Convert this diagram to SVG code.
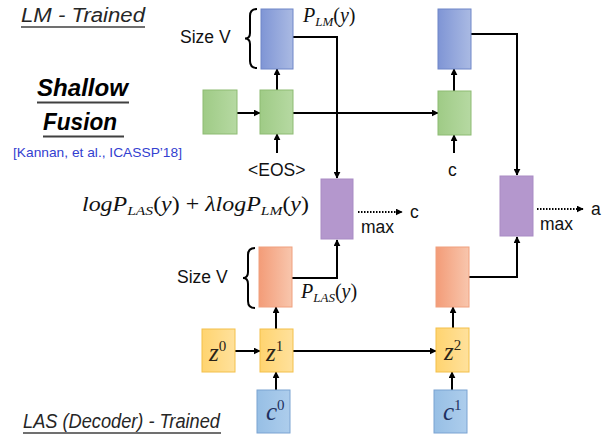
<svg xmlns="http://www.w3.org/2000/svg" width="609" height="444" viewBox="0 0 609 444">
<defs>
<linearGradient id="gBlue" x1="0" x2="1" y1="0" y2="0"><stop offset="0" stop-color="#7f95d5"/><stop offset="1" stop-color="#aabae3"/></linearGradient>
<linearGradient id="gGreen" x1="0" x2="1" y1="0" y2="0"><stop offset="0" stop-color="#9fcb86"/><stop offset="1" stop-color="#b6d9a2"/></linearGradient>
<linearGradient id="gOrange" x1="0" x2="1" y1="0" y2="0"><stop offset="0" stop-color="#f39c78"/><stop offset="1" stop-color="#f8c6ad"/></linearGradient>
<linearGradient id="gYellow" x1="0" x2="1" y1="0" y2="0"><stop offset="0" stop-color="#ffd470"/><stop offset="1" stop-color="#ffe19c"/></linearGradient>
<linearGradient id="gC" x1="0" x2="1" y1="0" y2="0"><stop offset="0" stop-color="#97bfe5"/><stop offset="1" stop-color="#adcdec"/></linearGradient>
<marker id="ah" viewBox="0 0 10 10" refX="9" refY="5" markerWidth="7" markerHeight="7" markerUnits="userSpaceOnUse" orient="auto"><path d="M0,0 L10,5 L0,10 z" fill="#000"/></marker>
</defs>
<style>
.blue{fill:url(#gBlue);stroke:#6f86c8;stroke-width:1}
.green{fill:url(#gGreen);stroke:#8dbb73;stroke-width:1}
.orange{fill:url(#gOrange);stroke:#f0a07e;stroke-width:1}
.yellow{fill:url(#gYellow);stroke:#f3c04a;stroke-width:1}
.cbox{fill:url(#gC);stroke:#7ba3d2;stroke-width:1}
.purple{fill:#b497cd;stroke:#a98bc4;stroke-width:1}
.ln{fill:none;stroke:#000;stroke-width:2}
.ar{fill:none;stroke:#000;stroke-width:2;marker-end:url(#ah)}
.dot{fill:none;stroke:#000;stroke-width:2;stroke-dasharray:1.5 1.5;marker-end:url(#ah)}
.sans{font-family:"Liberation Sans",Arial,sans-serif;fill:#111}
.title{font-family:"Liberation Sans",Arial,sans-serif;font-style:italic;font-size:20px;fill:#262626}
.big{font-family:"Liberation Sans",Arial,sans-serif;font-style:italic;font-weight:bold;font-size:24px;fill:#000}
.m{font-family:"Liberation Serif","Times New Roman",serif;font-style:italic;font-size:20px;fill:#111}
.zz{font-family:"Liberation Serif","Times New Roman",serif;font-style:italic;font-size:25px;fill:#2a2418}
.up{font-style:normal}
.sub{font-size:13px}
.sup{font-style:normal;font-size:15px}
.ul{stroke:#404040;stroke-width:1.5}
</style>

<!-- titles -->
<text class="title" x="21" y="22" textLength="124" lengthAdjust="spacingAndGlyphs">LM - Trained</text>
<line class="ul" x1="21" y1="27" x2="145" y2="27"/>
<text class="big" x="37" y="96" textLength="91" lengthAdjust="spacingAndGlyphs">Shallow</text>
<line class="ul" x1="37" y1="102.5" x2="129" y2="102.5" style="stroke-width:2"/>
<text class="big" x="43" y="130" textLength="74" lengthAdjust="spacingAndGlyphs">Fusion</text>
<line class="ul" x1="43" y1="136.5" x2="124" y2="136.5" style="stroke-width:2"/>
<text class="sans" x="13" y="157" font-size="13.5" style="fill:#3340d0" textLength="169" lengthAdjust="spacingAndGlyphs">[Kannan, et al., ICASSP’18]</text>
<text class="title" x="23" y="428" textLength="197" lengthAdjust="spacingAndGlyphs">LAS (Decoder) - Trained</text>
<line class="ul" x1="23" y1="433" x2="221" y2="433"/>

<!-- size labels and braces -->
<text class="sans" x="180" y="43" font-size="17.5">Size V</text>
<path class="ln" d="M257,9 Q250,9 250,16 L250,33 Q250,38.5 245,38.5 Q250,38.5 250,44 L250,61 Q250,68 257,68"/>
<text class="sans" x="177" y="283" font-size="17.5">Size V</text>
<path class="ln" d="M255,248 Q248,248 248,255 L248,272 Q248,278 243,278 Q248,278 248,284 L248,301 Q248,308 255,308"/>

<!-- math labels -->
<text class="m" x="303" y="22">P<tspan class="sub" dy="4">LM</tspan><tspan class="up" dy="-4">(</tspan>y<tspan class="up">)</tspan></text>
<text class="m" x="301" y="298">P<tspan class="sub" dy="4">LAS</tspan><tspan class="up" dy="-4">(</tspan>y<tspan class="up">)</tspan></text>
<text class="m" x="82" y="211" textLength="227" lengthAdjust="spacingAndGlyphs">logP<tspan class="sub" dy="4">LAS</tspan><tspan class="up" dy="-4">(</tspan>y<tspan class="up">) + </tspan>λlogP<tspan class="sub" dy="4">LM</tspan><tspan class="up" dy="-4">(</tspan>y<tspan class="up">)</tspan></text>

<!-- connectors -->
<g id="connectors">
<line class="ar" x1="237" y1="113" x2="260" y2="113"/>
<line class="ar" x1="277" y1="90" x2="277" y2="69"/>
<line class="ar" x1="277" y1="153" x2="277" y2="134"/>
<line class="ar" x1="293" y1="113" x2="438" y2="113"/>
<line class="ar" x1="454" y1="153" x2="454" y2="135"/>
<line class="ar" x1="454" y1="91" x2="454" y2="69"/>
<polyline class="ar" points="293,37 337,37 337,178"/>
<polyline class="ar" points="471,34 517,34 517,175"/>
<polyline class="ar" points="292,278 337,278 337,240"/>
<polyline class="ar" points="469,277 517,277 517,237"/>
<line class="dot" x1="358" y1="212" x2="402" y2="212"/>
<line class="dot" x1="537" y1="209" x2="583" y2="209"/>
<line class="ar" x1="235" y1="351" x2="260" y2="351"/>
<line class="ar" x1="293" y1="351" x2="436" y2="351"/>
<line class="ar" x1="276" y1="329" x2="276" y2="307"/>
<line class="ar" x1="276" y1="390" x2="276" y2="372"/>
<line class="ar" x1="453" y1="328" x2="453" y2="307"/>
<line class="ar" x1="452" y1="390" x2="452" y2="372"/>
</g>

<!-- nodes -->
<g id="lm-out-1"><rect class="blue" x="261" y="9" width="32" height="60"/></g>
<g id="lm-out-2"><rect class="blue" x="438" y="9" width="33" height="60"/></g>
<g id="lm-h0"><rect class="green" x="203" y="90" width="34" height="44"/></g>
<g id="lm-h1"><rect class="green" x="260" y="90" width="33" height="44"/></g>
<g id="lm-h2"><rect class="green" x="438" y="91" width="33" height="44"/></g>
<g id="eos"><text class="sans" x="248" y="176" font-size="17.5">&lt;EOS&gt;</text></g>
<g id="c-in"><text class="sans" x="448" y="176" font-size="17.5">c</text></g>
<g id="fuse-1"><rect class="purple" x="321" y="179" width="32" height="60"/>
<text class="sans" x="361" y="233" font-size="17.5">max</text>
<text class="sans" x="410" y="218" font-size="17.5">c</text></g>
<g id="fuse-2"><rect class="purple" x="500" y="176" width="33" height="60"/>
<text class="sans" x="540" y="230" font-size="17.5">max</text>
<text class="sans" x="591" y="215" font-size="17.5">a</text></g>
<g id="las-out-1"><rect class="orange" x="259" y="247" width="33" height="60"/></g>
<g id="las-out-2"><rect class="orange" x="436" y="247" width="33" height="60"/></g>
<g id="z0"><rect class="yellow" x="202" y="329" width="33" height="43"/>
<text class="zz" x="209" y="361">z<tspan class="sup" dy="-10">0</tspan></text></g>
<g id="z1"><rect class="yellow" x="260" y="329" width="33" height="43"/>
<text class="zz" x="266" y="361">z<tspan class="sup" dy="-10">1</tspan></text></g>
<g id="z2"><rect class="yellow" x="436" y="328" width="33" height="44"/>
<text class="zz" x="444" y="360">z<tspan class="sup" dy="-10">2</tspan></text></g>
<g id="c0"><rect class="cbox" x="257" y="390" width="33" height="43"/>
<text class="zz" x="266" y="420" style="fill:#1f3060">c<tspan class="sup" dy="-10">0</tspan></text></g>
<g id="c1"><rect class="cbox" x="434" y="390" width="33" height="43"/>
<text class="zz" x="443" y="420" style="fill:#1f3060">c<tspan class="sup" dy="-10">1</tspan></text></g>
</svg>
